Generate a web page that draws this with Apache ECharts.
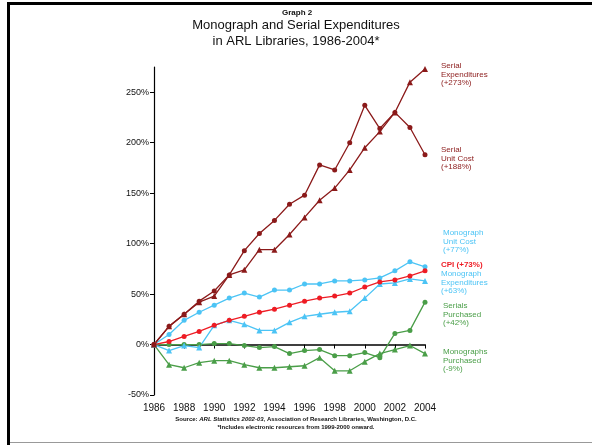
<!DOCTYPE html>
<html><head><meta charset="utf-8">
<script src="https://cdn.jsdelivr.net/npm/echarts@6/dist/echarts.min.js"></script>
<style>html,body{margin:0;padding:0;background:#fff}#c{width:592px;height:445px}</style>
</head><body><div id="c"></div>
<script>
const years = [1986,1987,1988,1989,1990,1991,1992,1993,1994,1995,1996,1997,1998,1999,2000,2001,2002,2003,2004];
const serialExpenditures = [0,18,30,42,48,69,74,94,94,109,126,143,155,173,195,211,230,260,273];
const serialUnitCost = [0,18,30,43,53,69,93,110,123,139,148,178,173,200,237,214,230,215,188];
const monographUnitCost = [0,10,24,32,39,46,51,47,54,54,60,60,63,63,64,66,73,82,77];
const cpi = [0,3,8,13,19,24,28,32,35,39,43,46,48,51,57,62,64,68,73];
const monographExpenditures = [0,-6,-1,-3,19,24,20,14,14,22,28,30,32,33,46,60,61,65,63];
const serialsPurchased = [0,0,0,0,1,1,-1,-3,-2,-9,-6,-5,-11,-11,-8,-13,11,14,42];
const monographsPurchased = [0,-20,-23,-18,-16,-16,-20,-23,-23,-22,-21,-13,-26,-26,-17,-9,-5,-1,-9];
const yTicks = [-50,0,50,100,150,200,250];

const C_DR = '#8b1a1a', C_LB = '#4cc4f5', C_R = '#ee1c24', C_G = '#4a9e48';
const F = '"Liberation Sans", Arial, sans-serif';

function ser(name, data, color, sym) {
  return {
    name, type: 'line', data: years.map((y, i) => [y, data[i]]),
    symbol: sym, symbolSize: sym === 'triangle' ? 6 : 5,
    lineStyle: { color, width: 1.3 }, itemStyle: { color },
    animation: false, z: 3
  };
}

function lbl(x, y, lines, color, bold) {
  return lines.map((t, i) => ({
    type: 'text', left: x, top: y + i * 8.6,
    style: { text: t, fill: color, font: (bold ? 'bold ' : '') + '8px ' + F }
  }));
}

const chart = echarts.init(document.getElementById('c'));
chart.setOption({
  animation: false,
  grid: { left: 154, right: 167, top: 67, bottom: 50 },
  xAxis: [
    { type: 'value', min: 1986, max: 2004, interval: 2,
      axisLine: { show: false, onZero: false }, axisTick: { show: false }, splitLine: { show: false },
      axisLabel: { color: '#111', fontFamily: F, fontSize: 10, margin: 8, formatter: v => String(v) } },
    { type: 'value', min: 1986, max: 2004, interval: 2, position: 'bottom',
      axisLine: { show: true, onZero: true, lineStyle: { color: '#000', width: 1.5 } },
      axisTick: { show: true, length: 4, lineStyle: { color: '#000' } },
      axisLabel: { show: false }, splitLine: { show: false } }
  ],
  yAxis: {
    type: 'value', min: -50, max: 275,
    axisLine: { show: true, onZero: false, lineStyle: { color: '#000', width: 1.2 } },
    axisTick: { show: true, length: 4, customValues: yTicks, lineStyle: { color: '#000' } },
    axisLabel: { customValues: yTicks, color: '#111', fontFamily: F, fontSize: 9, margin: 5, formatter: v => v + '%' },
    splitLine: { show: false }
  },
  series: [
    ser('Monographs Purchased', monographsPurchased, C_G, 'triangle'),
    ser('Serials Purchased', serialsPurchased, C_G, 'circle'),
    ser('Monograph Expenditures', monographExpenditures, C_LB, 'triangle'),
    ser('Monograph Unit Cost', monographUnitCost, C_LB, 'circle'),
    ser('CPI', cpi, C_R, 'circle'),
    ser('Serial Unit Cost', serialUnitCost, C_DR, 'circle'),
    ser('Serial Expenditures', serialExpenditures, C_DR, 'triangle')
  ],
  graphic: [
    { type: 'rect', shape: { x: 7, y: 2, width: 585, height: 3 }, style: { fill: '#000' } },
    { type: 'rect', shape: { x: 7, y: 2, width: 3, height: 443 }, style: { fill: '#000' } },
    { type: 'rect', shape: { x: 10, y: 442, width: 582, height: 1 }, style: { fill: '#999' } },
    { type: 'text', left: 282, top: 9, style: { text: 'Graph 2', fill: '#111', font: 'bold 8px ' + F } },
    { type: 'text', left: 'center', top: 19, style: { text: 'Monograph and Serial Expenditures', fill: '#111', font: '13px ' + F } },
    { type: 'text', left: 'center', top: 35, style: { text: 'in ARL Libraries, 1986-2004*', fill: '#111', font: '13px ' + F } },
    { type: 'text', left: 'center', top: 416, style: {
        text: '{b|Source: }{i|ARL Statistics 2002-03}{b|, Association of Research Libraries, Washington, D.C.}',
        rich: { b: { font: 'bold 6px ' + F, fill: '#111' }, i: { font: 'italic bold 6px ' + F, fill: '#111' } } } },
    { type: 'text', left: 'center', top: 424, style: { text: '*Includes electronic resources from 1999-2000 onward.', fill: '#111', font: 'bold 6px ' + F } },
    ...lbl(441, 62, ['Serial', 'Expenditures', '(+273%)'], C_DR),
    ...lbl(441, 146, ['Serial', 'Unit Cost', '(+188%)'], C_DR),
    ...lbl(443, 229, ['Monograph', 'Unit Cost', '(+77%)'], C_LB),
    ...lbl(441, 261, ['CPI (+73%)'], C_R, true),
    ...lbl(441, 270, ['Monograph', 'Expenditures', '(+63%)'], C_LB),
    ...lbl(443, 302, ['Serials', 'Purchased', '(+42%)'], C_G),
    ...lbl(443, 348, ['Monographs', 'Purchased', '(-9%)'], C_G)
  ]
});
</script>
</body></html>
